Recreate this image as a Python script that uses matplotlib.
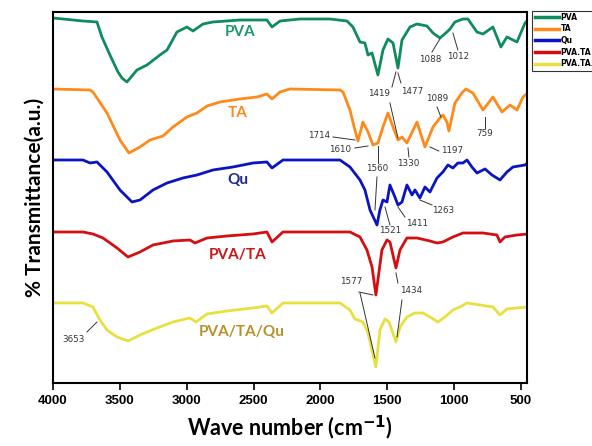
import matplotlib
matplotlib.use("Agg")
import matplotlib.pyplot as plt

# FTIR spectra, values (offset transmittance, a.u.)
pva_wn = [4000, 3776, 3671, 3634, 3574, 3514, 3484, 3447, 3372, 3297, 3200, 3147, 3073, 2998,
          2953, 2878, 2804, 2602, 2400, 2362, 2302, 2153, 1929, 1801, 1757, 1704, 1667, 1644,
          1614, 1570, 1532, 1495, 1457, 1420, 1390, 1330, 1278, 1203, 1158, 1106, 1054, 1031,
          994, 934, 897, 829, 784, 710, 650, 605, 530, 470, 448]
pva_t = [382, 379, 378, 363, 345, 328, 322, 318, 330, 335, 345, 350, 368, 373,
         369, 376, 378, 380, 380, 373, 379, 381, 381, 379, 373, 358, 357, 345,
         347, 325, 350, 361, 357, 332, 360, 373, 376, 374, 367, 362, 368, 371,
         378, 381, 381, 368, 366, 373, 353, 363, 358, 377, 380]

ta_wn = [4000, 3723, 3701, 3596, 3499, 3432, 3349, 3275, 3177, 3103, 2998, 2923, 2848, 2751,
         2602, 2474, 2400, 2362, 2302, 2228, 1854, 1831, 1779, 1742, 1719, 1682, 1644, 1607,
         1570, 1532, 1495, 1457, 1420, 1390, 1353, 1278, 1218, 1158, 1106, 1084, 1054, 1039,
         994, 942, 912, 860, 784, 710, 642, 582, 530, 485, 448]
ta_t = [311, 310, 308, 287, 260, 247, 253, 260, 264, 273, 283, 287, 294, 298,
        301, 303, 306, 301, 308, 311, 310, 308, 290, 270, 259, 278, 268, 255,
        257, 273, 287, 273, 260, 263, 257, 278, 253, 273, 282, 285, 278, 269,
        297, 307, 311, 307, 290, 303, 288, 295, 290, 303, 307]

qu_wn = [4000, 3776, 3723, 3671, 3596, 3499, 3409, 3349, 3252, 3147, 3028, 2923, 2804, 2654,
         2504, 2400, 2362, 2280, 1854, 1779, 1704, 1667, 1629, 1577, 1555, 1532, 1502, 1480,
         1443, 1420, 1390, 1353, 1315, 1293, 1256, 1218, 1181, 1128, 1084, 1046, 1009, 972,
         934, 904, 867, 829, 769, 717, 657, 605, 560, 470, 448]
qu_t = [240, 240, 237, 238, 228, 210, 198, 200, 210, 217, 222, 225, 230, 233,
        237, 238, 232, 240, 240, 233, 220, 210, 190, 175, 190, 200, 198, 215,
        203, 195, 198, 215, 205, 210, 202, 213, 208, 222, 228, 235, 232, 237,
        237, 240, 233, 227, 231, 225, 220, 228, 233, 235, 237]

pvata_wn = [4000, 3776, 3701, 3626, 3521, 3439, 3349, 3252, 3103, 2976, 2938, 2848, 2699, 2504,
            2400, 2362, 2280, 1854, 1779, 1704, 1652, 1614, 1585, 1540, 1502, 1480, 1435, 1405,
            1353, 1278, 1181, 1128, 1084, 1009, 934, 784, 680, 657, 620, 530, 448]
pvata_t = [168, 168, 166, 162, 152, 143, 148, 155, 159, 160, 157, 162, 164, 166,
           168, 158, 168, 168, 168, 163, 150, 133, 105, 150, 160, 158, 132, 150,
           162, 162, 159, 157, 158, 163, 167, 167, 165, 158, 163, 165, 166]

pvataqu_wn = [4000, 3776, 3701, 3649, 3596, 3521, 3439, 3349, 3222, 3103, 2976, 2931, 2848, 2699,
              2504, 2400, 2362, 2280, 1854, 1779, 1742, 1682, 1644, 1585, 1555, 1517, 1487, 1435,
              1405, 1353, 1293, 1233, 1181, 1121, 1069, 1009, 942, 904, 807, 710, 657, 605,
              530, 448]
pvataqu_t = [97, 97, 93, 80, 70, 63, 59, 65, 72, 78, 82, 78, 86, 89,
             92, 94, 87, 97, 97, 90, 81, 78, 67, 33, 70, 81, 78, 58,
             73, 83, 87, 87, 83, 78, 83, 90, 94, 97, 95, 93, 85, 91,
             92, 93]

series = [
    ("PVA", pva_wn, pva_t, "#0f8c5c"),
    ("TA", ta_wn, ta_t, "#ff8a1c"),
    ("Qu", qu_wn, qu_t, "#0a14c0"),
    ("PVA.TA", pvata_wn, pvata_t, "#d40f12"),
    ("PVA.TA.Qu", pvataqu_wn, pvataqu_t, "#e8e040"),
]

# curve names written on the plot
names = ["PVA", "TA", "Qu", "PVA/TA", "PVA/TA/Qu"]
name_colors = ["#1a9a68", "#ff8a1c", "#1c2a8c", "#cc1515", "#b8902a"]
name_pos = [(2602, 368), (2617, 287), (2617, 220), (2617, 145), (2587, 68)]

# peak labels: text, text position, leader lines
peaks = [
    ("1088", (1181, 340), [((1166, 348), (1106, 361))]),
    ("1012", (971, 343), [((972, 350), (1009, 367))]),
    ("1419", (1562, 306), [((1465, 313), (1435, 328)), ((1480, 297), (1420, 262))]),
    ("1477", (1315, 308), [((1398, 317), (1420, 327))]),
    ("1089", (1128, 301), [((1128, 293), (1099, 283))]),
    ("759", (770, 266), [((770, 283), (770, 272))]),
    ("1714", (2011, 264), [((1906, 263), (1742, 260))]),
    ("1610", (1854, 250), [((1742, 252), (1644, 254))]),
    ("1560", (1577, 231), [((1570, 254), (1570, 237)), ((1577, 223), (1592, 190))]),
    ("1330", (1345, 236), [((1345, 252), (1338, 243))]),
    ("1197", (1016, 249), [((1181, 253), (1114, 249))]),
    ("1521", (1480, 169), [((1517, 193), (1480, 175))]),
    ("1411", (1278, 176), [((1420, 193), (1368, 183))]),
    ("1263", (1084, 189), [((1256, 200), (1166, 195))]),
    ("1577", (1772, 118), [((1712, 108), (1607, 105)), ((1704, 107), (1592, 42))]),
    ("1434", (1323, 109), [((1420, 117), (1435, 127)), ((1390, 100), (1427, 63))]),
    ("3653", (3850, 60), [((3746, 68), (3671, 78))]),
]

xticks = [4000, 3500, 3000, 2500, 2000, 1500, 1000, 500]

fig = plt.figure(figsize=(5.92, 4.46), dpi=100)
ax = fig.add_axes([0.0895, 0.1413, 0.8007, 0.8318])

for lab, wn, t, c in series:
    ax.plot(wn, t, color=c, lw=2.0, label=lab, solid_joinstyle="round")

for n, c, (x, y) in zip(names, name_colors, name_pos):
    ax.text(x, y, n, color=c, fontsize=11, fontweight="bold", family="Lato",
            ha="center", va="center")

for txt, (tx, ty), lines in peaks:
    ax.text(tx, ty, txt, fontsize=6.3, color="#333333", ha="center", va="center")
    for (x1, y1), (x2, y2) in lines:
        ax.plot([x1, x2], [y1, y2], color="#333333", lw=0.7)

ax.set_xlim(4000, 455)
ax.set_ylim(17, 388)
ax.set_xticks(xticks)
ax.set_xticklabels([str(v) for v in xticks], fontsize=9.5, fontweight="bold",
                   family="Liberation Sans")
ax.set_yticks([])
ax.tick_params(axis="x", direction="out", length=5, width=1.2)
for s in ax.spines.values():
    s.set_linewidth(1.5)

ax.set_xlabel("Wave number (cm$^{\\mathbf{-1}}$)", fontsize=15.5, fontweight="bold",
              family="Lato", labelpad=5)
ax.set_ylabel("% Transmittance(a.u.)", fontsize=15, fontweight="bold", family="Lato",
              labelpad=6)

leg = fig.legend(loc="upper left", bbox_to_anchor=(0.893, 0.985), frameon=True,
                 fancybox=False, edgecolor="black", handlelength=3.2, handletextpad=0.2,
                 borderpad=0.3, labelspacing=0.35, prop={"size": 5.5, "weight": "bold"})
leg.get_frame().set_linewidth(0.8)
for l in leg.get_lines():
    l.set_linewidth(2.5)

fig.savefig("out.png", dpi=100)
